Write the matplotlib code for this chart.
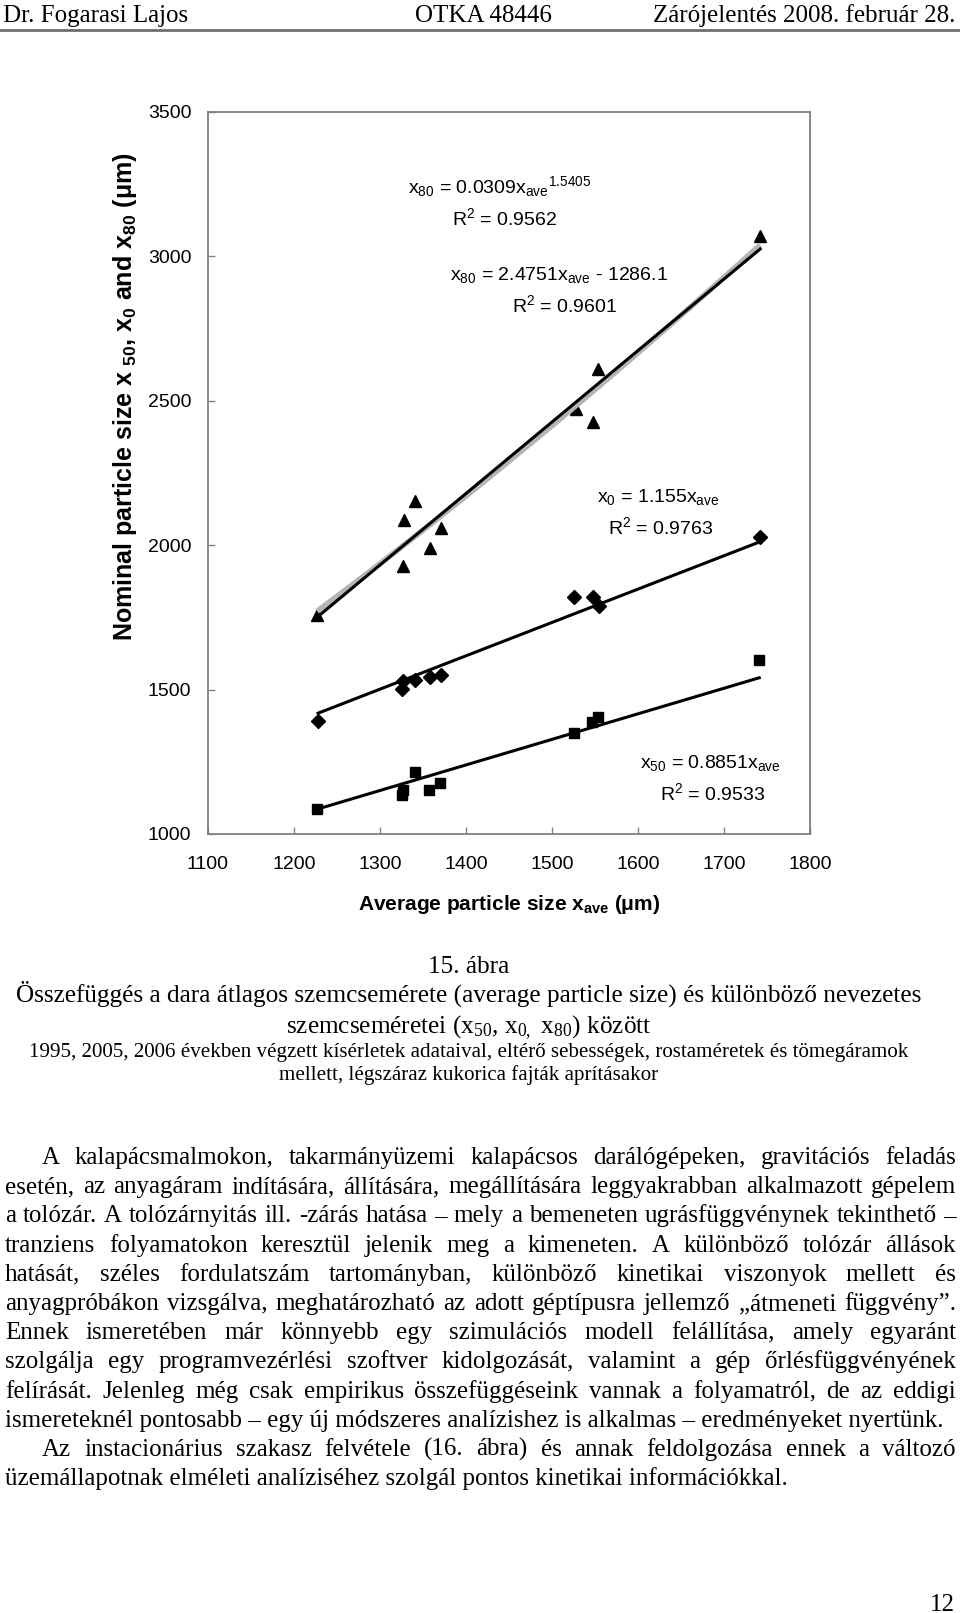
import matplotlib
matplotlib.use('Agg')
import matplotlib.pyplot as plt
from matplotlib.lines import Line2D
import numpy as np

W, H, DPI = 960, 1613, 100
SANS = ['Liberation Sans', 'DejaVu Sans']
SERIF = ['Liberation Serif', 'DejaVu Serif']
plt.rcParams['mathtext.default'] = 'regular'
plt.rcParams['font.family'] = SANS

# ---------------- data ----------------
x80_x = [1227, 1327, 1328, 1341, 1358, 1371, 1528, 1548, 1554, 1742]
x80_y = [1760, 1928, 2088, 2153, 1989, 2061, 2472, 2426, 2611, 3072]
x0_x = [1228, 1326, 1327, 1341, 1358, 1371, 1526, 1548, 1555, 1742]
x0_y = [1390, 1502, 1529, 1532, 1543, 1549, 1822, 1822, 1789, 2030]
x50_x = [1227, 1326, 1327, 1341, 1357, 1370, 1525, 1547, 1553, 1741]
x50_y = [1087, 1135, 1153, 1213, 1153, 1178, 1350, 1387, 1404, 1601]

x80_lin = (2.4751, -1286.1)
x80_pow = (0.0309, 1.5405)
x0_slope = 1.155
x50_slope = 0.8851

x_ticks = [1100, 1200, 1300, 1400, 1500, 1600, 1700, 1800]
y_ticks = [1000, 1500, 2000, 2500, 3000, 3500]

xlabel = "Average particle size x$_{ave}$ (μm)"
ylabel = "Nominal particle size x$_{\\ 50}$, x$_{0}$ and x$_{80}$ (μm)"

header = ["Dr. Fogarasi Lajos", "OTKA 48446", "Zárójelentés 2008. február 28."]
caption = ["15. ábra",
           "Összefüggés a dara átlagos szemcsemérete (average particle size) és különböző nevezetes",
           "szemcseméretei (x$_{50}$, x$_{0,}$ x$_{80}$) között",
           "1995, 2005, 2006 években végzett kísérletek adataival, eltérő sebességek, rostaméretek és tömegáramok",
           "mellett, légszáraz kukorica fajták aprításakor"]
body = [
    ("A kalapácsmalmokon, takarmányüzemi kalapácsos darálógépeken, gravitációs feladás", True, True),
    ("esetén, az anyagáram indítására, állítására, megállítására leggyakrabban alkalmazott gépelem", False, True),
    ("a tolózár. A tolózárnyitás ill. -zárás hatása – mely a bemeneten ugrásfüggvénynek tekinthető –", False, True),
    ("tranziens folyamatokon keresztül jelenik meg a kimeneten. A különböző tolózár állások", False, True),
    ("hatását, széles fordulatszám tartományban, különböző kinetikai viszonyok mellett és", False, True),
    ("anyagpróbákon vizsgálva, meghatározható az adott géptípusra jellemző „átmeneti függvény”.", False, True),
    ("Ennek ismeretében már könnyebb egy szimulációs modell felállítása, amely egyaránt", False, True),
    ("szolgálja egy programvezérlési szoftver kidolgozását, valamint a gép őrlésfüggvényének", False, True),
    ("felírását. Jelenleg még csak empirikus összefüggéseink vannak a folyamatról, de az eddigi", False, True),
    ("ismereteknél pontosabb – egy új módszeres analízishez is alkalmas – eredményeket nyertünk.", False, False),
    ("Az instacionárius szakasz felvétele (16. ábra) és annak feldolgozása ennek a változó", True, True),
    ("üzemállapotnak elméleti analíziséhez szolgál pontos kinetikai információkkal.", False, False),
]

fig = plt.figure(figsize=(W / DPI, H / DPI), dpi=DPI)
renderer = fig.canvas.get_renderer()


def fy(y):
    return 1 - y / H


def fx(x):
    return x / W


def ptext(x, y, s, **kw):
    return fig.text(fx(x), fy(y), s, **kw)


def width_of(s, size, family, weight='normal'):
    t = fig.text(0, 0, s, fontsize=size, family=family, weight=weight)
    w = t.get_window_extent(renderer).width
    t.remove()
    return w


# ---------------- chart ----------------
ax = fig.add_axes([fx(208), fy(834), (810 - 208) / W, (834 - 112) / H])
ax.set_xlim(1100, 1800)
ax.set_ylim(1000, 3500)
ax.set_xticks(x_ticks)
ax.set_yticks(y_ticks)
for s in ax.spines.values():
    s.set_color('#808080')
    s.set_linewidth(1.3)
ax.tick_params(axis='both', direction='in', length=5, width=1, color='#808080',
               labelsize=14, labelcolor='black')
ax.tick_params(axis='y', pad=12)
ax.tick_params(axis='x', pad=16)

ax.plot(x80_x, x80_y, linestyle='none', marker='^', markersize=9, color='black', zorder=2)
ax.plot(x0_x, x0_y, linestyle='none', marker='D', markersize=7, color='black', zorder=2)
ax.plot(x50_x, x50_y, linestyle='none', marker='s', markersize=7.5, color='black', zorder=2)

xa = np.array([min(x80_x), max(x80_x)], dtype=float)
xp = np.linspace(min(x80_x), max(x80_x), 50)
ax.plot(xp, x80_pow[0] * xp ** x80_pow[1], color='#b4b4b4', lw=4.0, zorder=3,
        solid_capstyle='butt')
ax.plot(xa, x80_lin[0] * xa + x80_lin[1], color='black', lw=2.2, zorder=4)
xb = np.array([min(x0_x), max(x0_x)], dtype=float)
ax.plot(xb, x0_slope * xb, color='black', lw=2.2, zorder=4)
xc = np.array([min(x50_x), max(x50_x)], dtype=float)
ax.plot(xc, x50_slope * xc, color='black', lw=2.2, zorder=4)

ann = [
    (408, 193, "x$_{80}$ = 0.0309x$_{ave}$$^{1.5405}$"),
    (452, 225, "R$^{2}$ = 0.9562"),
    (450, 280, "x$_{80}$ = 2.4751x$_{ave}$ - 1286.1"),
    (512, 312, "R$^{2}$ = 0.9601"),
    (597, 502, "x$_{0}$ = 1.155x$_{ave}$"),
    (608, 534, "R$^{2}$ = 0.9763"),
    (640, 768, "x$_{50}$ = 0.8851x$_{ave}$"),
    (660, 800, "R$^{2}$ = 0.9533"),
]
for x, y, s in ann:
    ptext(x, y, s, fontsize=14, ha='left', va='baseline', family=SANS)

xl_size = 14 * 303 / width_of(xlabel, 14, SANS, 'bold')
ptext(509, 905, xlabel, fontsize=xl_size, weight='bold',
      ha='center', va='center', family=SANS)
ptext(125, 397, ylabel, fontsize=18, weight='bold', ha='center', va='center',
      rotation=90, family=SANS)

# ---------------- page header ----------------
ptext(3, 22, header[0], fontsize=18, ha='left', va='baseline', family=SERIF)
ptext(483, 22, header[1], fontsize=18, ha='center', va='baseline', family=SERIF)
ptext(955, 22, header[2], fontsize=18, ha='right', va='baseline', family=SERIF)
fig.add_artist(Line2D([0, 1], [fy(30), fy(30)], transform=fig.transFigure,
                      color='#6e6e6e', lw=2.0))

# ---------------- caption ----------------
cap_big = 16 * 904 / width_of(caption[1], 16, SERIF)
cap_small = 13 * 874 / width_of(caption[3], 13, SERIF)
cap_y = [973, 1002, 1033, 1057, 1080]
for i, s in enumerate(caption):
    size = cap_big if i < 3 else cap_small
    ptext(469, cap_y[i], s, fontsize=size, ha='center', va='baseline', family=SERIF)

# ---------------- body text ----------------
body_size = 16 * 937 / width_of(body[9][0], 16, SERIF)
left, right, indent = 5, 956, 42
for i, (line, ind, just) in enumerate(body):
    yb = 1164 + i * 29.2
    x0 = left + (indent - left if ind else 0)
    if not just:
        ptext(x0, yb, line, fontsize=body_size, ha='left', va='baseline', family=SERIF)
        continue
    words = line.split(' ')
    ws = [width_of(w, body_size, SERIF) for w in words]
    gap = (right - x0 - sum(ws)) / (len(words) - 1)
    x = x0
    for w, wd in zip(words, ws):
        ptext(x, yb, w, fontsize=body_size, ha='left', va='baseline', family=SERIF)
        x += wd + gap

ptext(955, 1611, "12", fontsize=18, ha='right', va='baseline', family=SERIF)

fig.savefig('out.png', dpi=DPI)
